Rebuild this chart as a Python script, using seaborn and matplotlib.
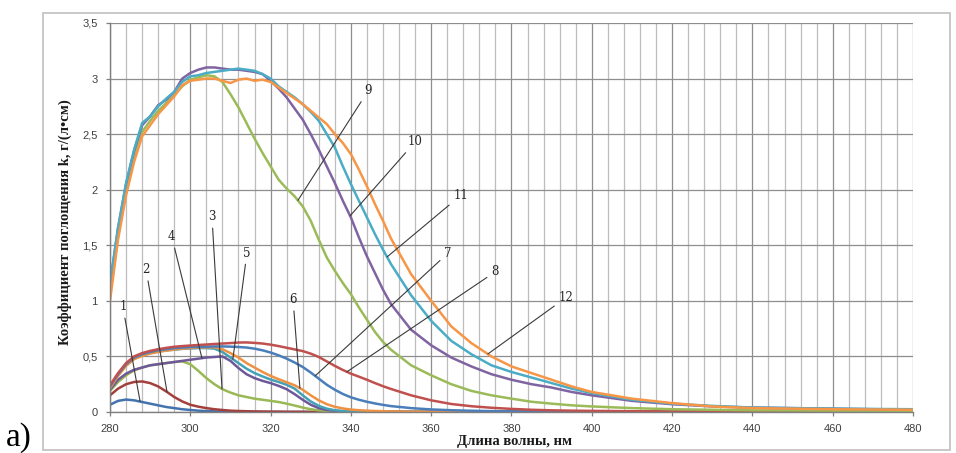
import numpy as np
import pandas as pd
import matplotlib
matplotlib.use("Agg")
import matplotlib.pyplot as plt
import seaborn as sns
from matplotlib.ticker import MultipleLocator, FuncFormatter
from matplotlib.patches import Rectangle

# ---------------- data ----------------
wavelengths = [280, 282, 284, 286, 288, 290, 292, 294, 296, 298,
               300, 302, 304, 306, 308, 310, 312, 314, 316, 318,
               320, 322, 324, 326, 328, 330, 332, 334, 336, 338,
               340, 342, 344, 346, 348, 350,
               355, 360, 365, 370, 375, 380, 385, 390, 395, 400,
               410, 420, 430, 440, 460, 480]

k1 = [0.065, 0.100, 0.112, 0.105, 0.090, 0.075, 0.060, 0.045, 0.035, 0.025,
      0.018, 0.012, 0.008, 0.006, 0.004, 0.003, 0.002, 0.002, 0.001, 0.001,
      0.001, 0.001, 0, 0, 0, 0, 0, 0, 0, 0,
      0, 0, 0, 0, 0, 0,
      0, 0, 0, 0, 0, 0, 0, 0, 0, 0,
      0, 0, 0, 0, 0, 0]
k2 = [0.150, 0.210, 0.250, 0.270, 0.275, 0.260, 0.230, 0.185, 0.135, 0.095,
      0.065, 0.048, 0.035, 0.025, 0.018, 0.012, 0.009, 0.007, 0.005, 0.004,
      0.003, 0.003, 0.002, 0.002, 0.002, 0.001, 0.001, 0.001, 0.001, 0.001,
      0.001, 0.001, 0, 0, 0, 0,
      0, 0, 0, 0, 0, 0, 0, 0, 0, 0,
      0, 0, 0, 0, 0, 0]
k3 = [0.190, 0.270, 0.330, 0.375, 0.400, 0.420, 0.430, 0.440, 0.450, 0.455,
      0.430, 0.370, 0.305, 0.250, 0.205, 0.175, 0.150, 0.135, 0.120, 0.110,
      0.100, 0.090, 0.075, 0.058, 0.040, 0.025, 0.015, 0.010, 0.006, 0.004,
      0.003, 0.002, 0.002, 0.001, 0.001, 0.001,
      0, 0, 0, 0, 0, 0, 0, 0, 0, 0,
      0, 0, 0, 0, 0, 0]
k4 = [0.200, 0.290, 0.345, 0.380, 0.400, 0.420, 0.430, 0.440, 0.450, 0.460,
      0.470, 0.480, 0.490, 0.495, 0.500, 0.460, 0.395, 0.340, 0.305, 0.280,
      0.260, 0.235, 0.205, 0.160, 0.110, 0.065, 0.035, 0.018, 0.010, 0.006,
      0.004, 0.003, 0.002, 0.002, 0.001, 0.001,
      0, 0, 0, 0, 0, 0, 0, 0, 0, 0,
      0, 0, 0, 0, 0, 0]
k5 = [0.220, 0.330, 0.420, 0.480, 0.510, 0.530, 0.545, 0.555, 0.560, 0.568,
      0.572, 0.575, 0.575, 0.570, 0.540, 0.490, 0.440, 0.390, 0.350, 0.320,
      0.292, 0.270, 0.245, 0.210, 0.150, 0.095, 0.055, 0.030, 0.016, 0.009,
      0.006, 0.004, 0.003, 0.002, 0.002, 0.001,
      0, 0, 0, 0, 0, 0, 0, 0, 0, 0,
      0, 0, 0, 0, 0, 0]
k6 = [0.215, 0.325, 0.415, 0.475, 0.505, 0.525, 0.540, 0.552, 0.562, 0.570,
      0.575, 0.580, 0.582, 0.582, 0.565, 0.530, 0.490, 0.440, 0.400, 0.360,
      0.325, 0.295, 0.268, 0.240, 0.200, 0.150, 0.105, 0.070, 0.047, 0.032,
      0.022, 0.016, 0.012, 0.009, 0.007, 0.005,
      0.003, 0.002, 0.002, 0.001, 0.001, 0.001, 0.001, 0, 0, 0,
      0, 0, 0, 0, 0, 0]
k7 = [0.230, 0.340, 0.430, 0.490, 0.520, 0.540, 0.555, 0.565, 0.575, 0.580,
      0.585, 0.585, 0.588, 0.590, 0.590, 0.588, 0.585, 0.580, 0.570, 0.555,
      0.535, 0.510, 0.480, 0.445, 0.405, 0.355, 0.300, 0.245, 0.200, 0.162,
      0.132, 0.110, 0.092, 0.077, 0.064, 0.053,
      0.035, 0.023, 0.016, 0.011, 0.008, 0.006, 0.005, 0.004, 0.003, 0.003,
      0.002, 0.002, 0.001, 0.001, 0.001, 0.001]
k8 = [0.240, 0.350, 0.440, 0.500, 0.530, 0.550, 0.565, 0.577, 0.587, 0.593,
      0.598, 0.603, 0.607, 0.612, 0.616, 0.620, 0.625, 0.626, 0.622, 0.616,
      0.606, 0.593, 0.578, 0.563, 0.548, 0.525, 0.495, 0.455, 0.415, 0.378,
      0.345, 0.318, 0.290, 0.260, 0.232, 0.207,
      0.150, 0.105, 0.072, 0.052, 0.038, 0.028, 0.020, 0.015, 0.012, 0.010,
      0.007, 0.005, 0.004, 0.003, 0.003, 0.002]
k9 = [1.05, 1.60, 2.00, 2.30, 2.52, 2.62, 2.71, 2.78, 2.85, 2.93,
      2.99, 3.01, 3.03, 3.02, 2.97, 2.86, 2.74, 2.60, 2.46, 2.33,
      2.21, 2.09, 2.01, 1.94, 1.85, 1.72, 1.55, 1.39, 1.27, 1.16,
      1.06, 0.94, 0.83, 0.72, 0.63, 0.56,
      0.42, 0.33, 0.25, 0.19, 0.15, 0.12, 0.092, 0.075, 0.06, 0.05,
      0.035, 0.025, 0.02, 0.015, 0.012, 0.01]
k10 = [1.15, 1.65, 2.05, 2.35, 2.58, 2.66, 2.76, 2.81, 2.88, 3.00,
       3.05, 3.08, 3.10, 3.10, 3.09, 3.08, 3.08, 3.07, 3.06, 3.04,
       2.98, 2.91, 2.83, 2.73, 2.63, 2.50, 2.36, 2.21, 2.06, 1.90,
       1.75, 1.57, 1.40, 1.25, 1.10, 0.97,
       0.74, 0.60, 0.49, 0.41, 0.34, 0.29, 0.25, 0.22, 0.18, 0.15,
       0.10, 0.07, 0.05, 0.04, 0.03, 0.02]
k11 = [1.15, 1.66, 2.06, 2.36, 2.60, 2.66, 2.75, 2.82, 2.88, 2.97,
       3.02, 3.03, 3.05, 3.06, 3.07, 3.08, 3.09, 3.08, 3.07, 3.04,
       3.00, 2.93, 2.88, 2.83, 2.77, 2.70, 2.62, 2.50, 2.38, 2.21,
       2.05, 1.90, 1.75, 1.60, 1.46, 1.33,
       1.05, 0.82, 0.64, 0.52, 0.42, 0.36, 0.31, 0.26, 0.21, 0.17,
       0.11, 0.075, 0.055, 0.04, 0.03, 0.025]
k12 = [1.00, 1.55, 1.95, 2.25, 2.48, 2.58, 2.68, 2.76, 2.84, 2.94,
       2.98, 2.99, 3.00, 3.00, 2.98, 2.96, 2.99, 3.00, 2.98, 2.99,
       2.97, 2.92, 2.87, 2.82, 2.77, 2.71, 2.65, 2.59, 2.50, 2.42,
       2.32, 2.18, 2.03, 1.87, 1.72, 1.56,
       1.24, 1.00, 0.77, 0.62, 0.50, 0.41, 0.35, 0.29, 0.23, 0.18,
       0.12, 0.08, 0.05, 0.035, 0.025, 0.02]

curve_labels = ["1", "2", "3", "4", "5", "6", "7", "8", "9", "10", "11", "12"]
series = [k1, k2, k3, k4, k5, k6, k7, k8, k9, k10, k11, k12]

x_ticks = [280, 300, 320, 340, 360, 380, 400, 420, 440, 460, 480]
y_ticks = [0, 0.5, 1, 1.5, 2, 2.5, 3, 3.5]

# ---------------- style / layout ----------------
colors = ["#4373AE", "#A3403D", "#98B954", "#6E589A", "#45A2B6", "#EE9142",
          "#4A7EBB", "#C0504D", "#9BBB59", "#8064A2", "#4BACC6", "#F79646"]
palette = dict(zip(curve_labels, colors))

# annotation anchor wavelength on each curve, and text position (data coords)
anchor_nm = [287.5, 294.2, 307.9, 302.9, 310.6, 327.3, 331.1, 339.0, 326.8, 339.8, 349.0, 374.1]
text_pos = [(283.2, 0.945), (289.0, 1.28), (305.4, 1.755), (295.4, 1.575),
            (314.1, 1.43), (325.6, 1.01), (364.2, 1.43), (375.9, 1.26),
            (344.3, 2.89), (356.0, 2.43), (367.4, 1.95), (393.6, 1.03)]

sns.set_theme(style="white")
plt.rcParams['font.family'] = ['DejaVu Sans']

rows = []
for lab, ks in zip(curve_labels, series):
    for w, k in zip(wavelengths, ks):
        rows.append({"wl": w, "k": k, "curve": lab})
df = pd.DataFrame(rows)

W, H = 956, 453
fig = plt.figure(figsize=(W / 100, H / 100), dpi=100)
fig.patch.set_facecolor("white")

# outer chart border
fig.add_artist(Rectangle((43 / W, 3 / H), (950 - 43) / W, (450 - 13) / H,
                         transform=fig.transFigure, fill=False,
                         edgecolor="#C4C4C4", lw=1.3))

ax = fig.add_axes([110 / W, 1 - 412 / H, (913 - 110) / W, (412 - 23) / H])
ax.set_facecolor("white")

sns.lineplot(data=df, x="wl", y="k", hue="curve", hue_order=curve_labels,
             palette=palette, linewidth=1.8, legend=False, ax=ax,
             estimator=None, sort=False)

ax.set_xlim(280, 480)
ax.set_ylim(0, 3.5)
ax.set_xticks(x_ticks)
ax.set_yticks(y_ticks)
ax.xaxis.set_minor_locator(MultipleLocator(4))
ax.yaxis.set_major_formatter(FuncFormatter(lambda v, p: ("%g" % v).replace(".", ",")))

ax.grid(which="major", axis="both", color="#8E8E8E", lw=0.9)
ax.grid(which="minor", axis="x", color="#BDBDBD", lw=0.9)
ax.set_axisbelow(True)

for s in ["left", "bottom"]:
    ax.spines[s].set_color("#7F7F7F")
    ax.spines[s].set_linewidth(1.0)
for s in ["top", "right"]:
    ax.spines[s].set_visible(False)

ax.tick_params(axis="both", which="major", length=3, width=0.9, color="#7F7F7F",
               labelsize=8, labelcolor="#404040", pad=6, direction="out",
               left=True, bottom=True)
ax.tick_params(axis="x", which="minor", length=0)
for t in ax.get_xticklabels() + ax.get_yticklabels():
    t.set_family(["Liberation Sans", "DejaVu Sans"])

ax.set_xlabel("")
ax.set_ylabel("")

# curve number labels with leader lines
for lab, ks, nm, (tx, ty) in zip(curve_labels, series, anchor_nm, text_pos):
    ay = float(np.interp(nm, wavelengths, ks))
    ax.annotate(lab, xy=(nm, ay), xytext=(tx, ty), textcoords="data",
                ha="center", va="center", fontsize=8.5,
                family=["DejaVu Serif"], color="#262626",
                arrowprops=dict(arrowstyle="-", color="#3A3A3A", lw=0.8,
                                shrinkA=1, shrinkB=0))

fig.text(65 / W, 1 - 222 / H, "Коэффициент поглощения k, г/(л•см)",
         rotation=90, ha="center", va="center", fontsize=10.5,
         family=["Liberation Serif", "DejaVu Serif"], fontweight="bold",
         color="#1a1a1a")
fig.text(515 / W, 1 - 442 / H, "Длина волны, нм", ha="center", va="center",
         fontsize=10.5, family=["Liberation Serif", "DejaVu Serif"],
         fontweight="bold", color="#1a1a1a")
fig.text(6 / W, 1 - 446 / H, "a)", ha="left", va="baseline", fontsize=24,
         family=["Liberation Serif", "DejaVu Serif"], color="black")

fig.savefig("out.png", dpi=100, facecolor="white")
